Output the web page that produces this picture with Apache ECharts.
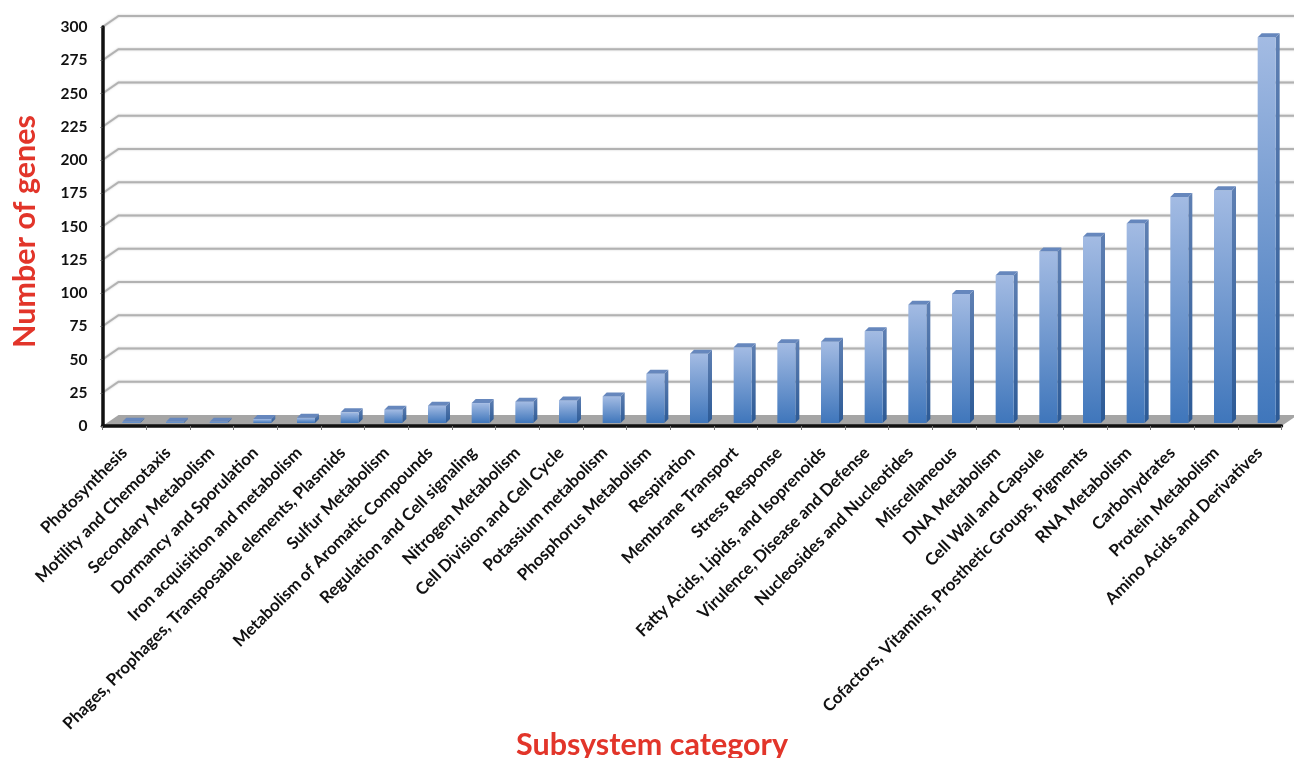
<!DOCTYPE html>
<html>
<head>
<meta charset="utf-8">
<style>html,body{margin:0;padding:0;background:#fff}#chart{width:1294px;height:758px}</style>
<script src="https://cdn.jsdelivr.net/npm/echarts@6/dist/echarts.min.js"></script>
</head>
<body>
<div id="chart"></div>
<script>
const categories = [
  'Photosynthesis', 'Motility and Chemotaxis', 'Secondary Metabolism', 'Dormancy and Sporulation',
  'Iron acquisition and metabolism', 'Phages, Prophages, Transposable elements, Plasmids', 'Sulfur Metabolism',
  'Metabolism of Aromatic Compounds', 'Regulation and Cell signaling', 'Nitrogen Metabolism',
  'Cell Division and Cell Cycle', 'Potassium metabolism', 'Phosphorus Metabolism', 'Respiration',
  'Membrane Transport', 'Stress Response', 'Fatty Acids, Lipids, and Isoprenoids', 'Virulence, Disease and Defense',
  'Nucleosides and Nucleotides', 'Miscellaneous', 'DNA Metabolism', 'Cell Wall and Capsule',
  'Cofactors, Vitamins, Prosthetic Groups, Pigments', 'RNA Metabolism', 'Carbohydrates', 'Protein Metabolism',
  'Amino Acids and Derivatives'
];
const geneCounts = [1, 1, 1, 3, 4, 8, 10, 13, 15, 16, 17, 20, 37, 52, 57, 60, 61, 69, 89, 97, 111, 129, 140, 150, 170, 175, 290];
const gridValues = [25, 50, 75, 100, 125, 150, 175, 200, 225, 250, 275, 300];

// Perspective offsets of the back wall relative to the axis plane.
const WALL_DX = 16, WALL_DY = -11;
const BAR_W = 18, BAR_SHIFT = 7, BAR_LIFT = 3, SIDE_DX = 4, SIDE_DY = -4;
const AXIS_FONT = 'Lato, "Open Sans", sans-serif';
const TITLE_RED = '#e2352a';

function vGrad(top, bottom) {
  return new echarts.graphic.LinearGradient(0, 0, 0, 1, [{offset: 0, color: top}, {offset: 1, color: bottom}]);
}

function renderFloor(params, api) {
  const r = params.coordSys;
  const y0 = r.y + r.height, xl = r.x, xr = r.x + r.width;
  return {
    type: 'polygon',
    shape: {points: [[xl, y0], [xl + WALL_DX, y0 + WALL_DY], [xr + WALL_DX, y0 + WALL_DY], [xr, y0]]},
    style: {fill: '#a5a5a5'}
  };
}

function renderGridLine(params, api) {
  const r = params.coordSys;
  const y = api.coord([0, api.value(0)])[1];
  return {
    type: 'polyline',
    shape: {points: [[r.x, y], [r.x + WALL_DX, y + WALL_DY], [r.x + r.width + WALL_DX, y + WALL_DY]]},
    style: {fill: 'none', stroke: '#b2b2b2', lineWidth: 2, shadowBlur: 2, shadowColor: 'rgba(150,150,150,0.5)'}
  };
}

function renderBar(params, api) {
  const p = api.coord([api.value(0), api.value(1)]);
  const base = api.coord([api.value(0), 0]);
  const xl = p[0] + BAR_SHIFT - BAR_W / 2, xr = xl + BAR_W;
  const yb = base[1] - BAR_LIFT, yt = p[1] - BAR_LIFT;
  return {
    type: 'group',
    children: [
      {type: 'polygon',
       shape: {points: [[xr, yt], [xr + SIDE_DX, yt + SIDE_DY], [xr + SIDE_DX, yb + SIDE_DY], [xr, yb]]},
       style: {fill: vGrad('#5f80b3', '#2c5a96')}},
      {type: 'rect',
       shape: {x: xl, y: yt, width: BAR_W, height: yb - yt},
       style: {fill: vGrad('#a3bbe3', '#3f76bb')}},
      {type: 'polygon',
       shape: {points: [[xl, yt], [xl + SIDE_DX, yt + SIDE_DY], [xr + SIDE_DX, yt + SIDE_DY], [xr, yt]]},
       style: {fill: '#6687bd'}}
    ]
  };
}

const chart = echarts.init(document.getElementById('chart'), null, {renderer: 'canvas'});
chart.setOption({
  animation: false,
  backgroundColor: '#fff',
  grid: {left: 102.5, top: 27, width: 1179, height: 399, containLabel: false, outerBoundsMode: 'none'},
  xAxis: {
    type: 'category',
    data: categories,
    z: 10,
    name: 'Subsystem category',
    nameLocation: 'middle',
    nameMoveOverlap: false,
    nameGap: 319,
    nameTextStyle: {
      color: TITLE_RED, fontFamily: AXIS_FONT, fontWeight: 'bold', fontSize: 30.5,
      align: 'center', verticalAlign: 'middle', padding: [0, 80, 0, 0]
    },
    axisLine: {lineStyle: {color: '#111', width: 3.5}},
    axisTick: {show: true, alignWithLabel: false, length: 4, lineStyle: {color: '#777', width: 1}},
    axisLabel: {
      interval: 0, rotate: 45, margin: 24, color: '#111',
      fontFamily: AXIS_FONT, fontWeight: 'bold', fontSize: 16.8
    },
    splitLine: {show: false}
  },
  yAxis: {
    type: 'value',
    min: 0, max: 300, interval: 25,
    z: 10,
    name: 'Number of genes',
    nameLocation: 'middle',
    nameGap: 62,
    nameTextStyle: {color: TITLE_RED, fontFamily: AXIS_FONT, fontWeight: 'bold', fontSize: 30.5, padding: [0, 10, 0, 0]},
    axisLine: {show: true, lineStyle: {color: '#111', width: 3.5}},
    axisTick: {show: true, length: 2, lineStyle: {color: '#555', width: 1}},
    axisLabel: {margin: 15, color: '#111', fontFamily: AXIS_FONT, fontWeight: 'bold', fontSize: 15.5},
    splitLine: {show: false}
  },
  series: [
    {type: 'custom', z: 1, silent: true, clip: false, renderItem: renderGridLine,
     data: gridValues.map(v => [v]), encode: {y: 0}},
    {type: 'custom', z: 2, silent: true, clip: false, renderItem: renderFloor, data: [[0]]},
    {type: 'custom', z: 3, silent: true, clip: false, renderItem: renderBar,
     data: geneCounts.map((v, i) => [i, v]), encode: {x: 0, y: 1}}
  ]
});
</script>
</body>
</html>
